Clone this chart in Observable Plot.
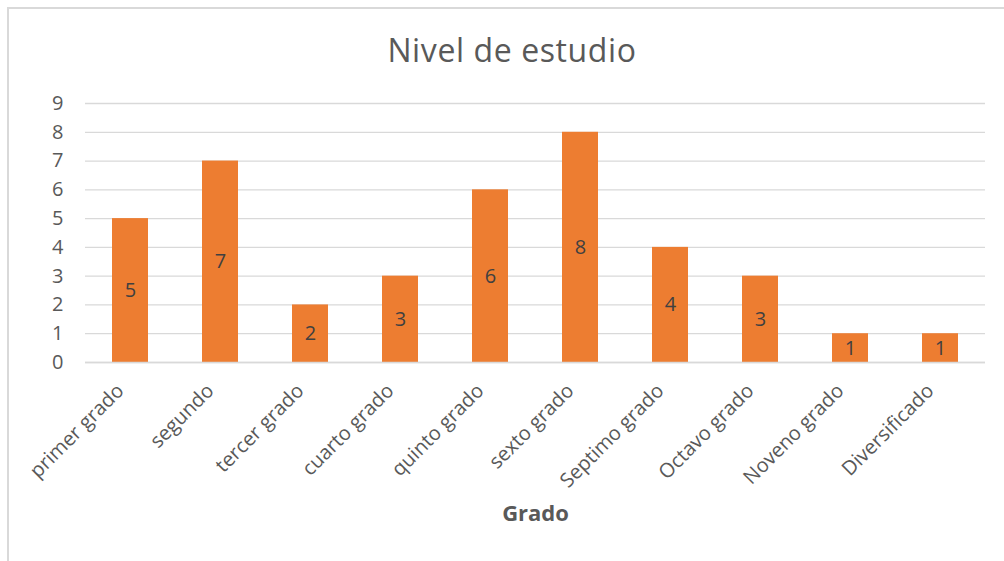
<!DOCTYPE html>
<html>
<head>
<meta charset="utf-8">
<script src="https://cdn.jsdelivr.net/npm/d3@7"></script>
<script src="https://cdn.jsdelivr.net/npm/@observablehq/plot@0.6"></script>
<style>
  html, body { margin: 0; padding: 0; background: #fff; }
  #wrap { position: relative; width: 1004px; height: 561px; overflow: hidden; font-family: "Open Sans", sans-serif; }
  #border { position: absolute; left: 7px; top: 7px; right: -5px; bottom: -5px; border-top: 2px solid #d9d9d9; border-left: 2px solid #d9d9d9; }
  #title { position: absolute; left: 0; width: 1024px; top: 28px; text-align: center; font-size: 32px; letter-spacing: 0.6px; color: #595959; line-height: 44px; }
  #chart { position: absolute; left: 0; top: 85px; }
</style>
</head>
<body>
<div id="wrap">
  <div id="border"></div>
  <div id="title">Nivel de estudio</div>
  <div id="chart"></div>
</div>
<script>
const categories = ["primer grado", "segundo", "tercer grado", "cuarto grado", "quinto grado", "sexto grado", "Septimo grado", "Octavo grado", "Noveno grado", "Diversificado"];
const values = [5, 7, 2, 3, 6, 8, 4, 3, 1, 1];
const yTicks = [0, 1, 2, 3, 4, 5, 6, 7, 8, 9];
const xTitle = "Grado";

const data = categories.map((c, i) => ({grado: c, n: values[i]}));

const chart = Plot.plot({
  width: 1004,
  height: 476,
  marginTop: 18,
  marginBottom: 199,
  marginLeft: 85,
  marginRight: 19,
  style: {fontFamily: "Open Sans, sans-serif", background: "transparent", overflow: "visible"},
  x: {domain: categories, paddingInner: 0.6, paddingOuter: 0.3, align: 0.5},
  y: {domain: [0, 9]},
  marks: [
    Plot.gridY(yTicks, {stroke: "#d9d9d9", strokeOpacity: 1, strokeWidth: 1.3}),
    Plot.barY(data, {x: "grado", y: "n", fill: "#ED7D31"}),
    Plot.ruleY([0], {stroke: "#d9d9d9", strokeWidth: 1.3}),
    Plot.axisY(yTicks, {tickSize: 0, tickPadding: 22, fontSize: 20, fill: "#595959", label: null}),
    Plot.axisX({tickSize: 0, tickPadding: 25, dx: -10, tickRotate: -45, fontSize: 20, fill: "#595959", label: null}),
    Plot.text(data, {x: "grado", y: d => d.n / 2, text: d => String(d.n), fontSize: 20, fill: "#404040"}),
    Plot.text([xTitle], {frameAnchor: "bottom", dy: 158, fontSize: 22, fontWeight: "bold", fill: "#595959"})
  ]
});
document.getElementById("chart").appendChild(chart);
</script>
</body>
</html>
